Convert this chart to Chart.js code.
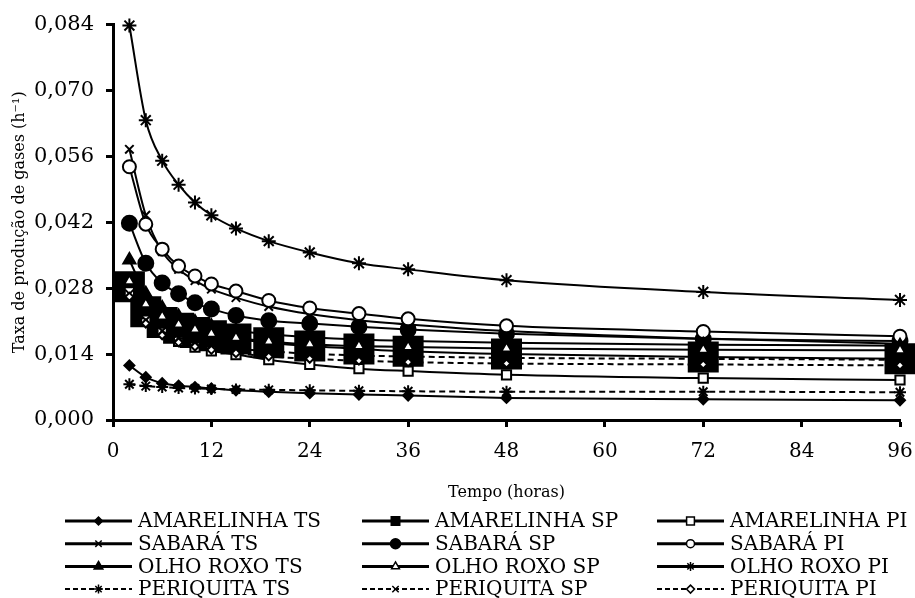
<!DOCTYPE html>
<html>
<head>
<meta charset="utf-8">
<script src="https://cdn.jsdelivr.net/npm/chart.js@4.4.1/dist/chart.umd.min.js"></script>
<style>
  html, body { margin: 0; padding: 0; background: #fff; }
</style>
</head>
<body>
<canvas id="chart" width="915" height="598"></canvas>
<script>
// Taxa de produção de gases - 12 curves, one per cultivar / treatment
const hours = [2, 4, 6, 8, 10, 12, 15, 19, 24, 30, 36, 48, 72, 96];

const amarelinhaTS = [0.0116, 0.0091, 0.0078, 0.0073, 0.0070, 0.0067, 0.0063, 0.0060, 0.0057, 0.0054, 0.0052, 0.0047, 0.0044, 0.0042];
const amarelinhaSP = [0.0283, 0.0230, 0.0207, 0.0195, 0.0186, 0.0179, 0.0172, 0.0164, 0.0157, 0.0151, 0.0146, 0.0140, 0.0134, 0.0130];
const amarelinhaPI = [0.0272, 0.0212, 0.0186, 0.0167, 0.0155, 0.0147, 0.0139, 0.0128, 0.0118, 0.0109, 0.0104, 0.0096, 0.0089, 0.0085];
const sabaraTS = [0.0575, 0.0435, 0.0358, 0.0320, 0.0296, 0.0278, 0.0260, 0.0241, 0.0225, 0.0212, 0.0203, 0.0189, 0.0173, 0.0162];
const sabaraSP = [0.0418, 0.0333, 0.0291, 0.0268, 0.0249, 0.0236, 0.0222, 0.0211, 0.0205, 0.0198, 0.0192, 0.0183, 0.0172, 0.0168];
const sabaraPI = [0.0538, 0.0416, 0.0363, 0.0327, 0.0306, 0.0289, 0.0274, 0.0254, 0.0238, 0.0226, 0.0215, 0.0200, 0.0188, 0.0178];
const olhoRoxoTS = [0.0340, 0.0268, 0.0238, 0.0220, 0.0208, 0.0199, 0.0190, 0.0182, 0.0176, 0.0171, 0.0168, 0.0164, 0.0160, 0.0158];
const olhoRoxoSP = [0.0295, 0.0246, 0.0220, 0.0203, 0.0192, 0.0183, 0.0175, 0.0167, 0.0161, 0.0157, 0.0155, 0.0152, 0.0149, 0.0148];
const olhoRoxoPI = [0.0838, 0.0637, 0.0551, 0.0500, 0.0462, 0.0435, 0.0407, 0.0380, 0.0356, 0.0333, 0.0320, 0.0297, 0.0272, 0.0255];
const periquitaTS = [0.0076, 0.0072, 0.0070, 0.0068, 0.0067, 0.0066, 0.0065, 0.0064, 0.0063, 0.0062, 0.0061, 0.0060, 0.0060, 0.0059];
const periquitaSP = [0.0268, 0.0212, 0.0189, 0.0175, 0.0166, 0.0159, 0.0152, 0.0146, 0.0141, 0.0137, 0.0135, 0.0132, 0.0130, 0.0128];
const periquitaPI = [0.0262, 0.0205, 0.0180, 0.0165, 0.0156, 0.0149, 0.0142, 0.0135, 0.0130, 0.0126, 0.0123, 0.0120, 0.0118, 0.0116];

const xTicks = [0, 12, 24, 36, 48, 60, 72, 84, 96];
const yTicks = [0, 0.014, 0.028, 0.042, 0.056, 0.070, 0.084];

const FONT = '"DejaVu Serif", "Liberation Serif", serif';

// name, values, marker look (plot + legend)
const series = [
    ['AMARELINHA TS', amarelinhaTS, { style: 'rectRot', r: 5, fill: '#000', lr: 4 }],
    ['AMARELINHA SP', amarelinhaSP, { style: 'rect', r: 20.5, fill: '#000', lr: 6 }],
    ['AMARELINHA PI', amarelinhaPI, { style: 'rect', r: 6.5, fill: '#fff', lr: 5.5 }],
    ['SABARÁ TS', sabaraTS, { style: 'crossRot', r: 6, fill: '#000', lr: 4.5 }],
    ['SABARÁ SP', sabaraSP, { style: 'circle', r: 7.5, fill: '#000', lr: 5 }],
    ['SABARÁ PI', sabaraPI, { style: 'circle', r: 6.5, fill: '#fff', lr: 4 }],
    ['OLHO ROXO TS', olhoRoxoTS, { style: 'triangle', r: 7, fill: '#000', lr: 5 }],
    ['OLHO ROXO SP', olhoRoxoSP, { style: 'triangle', r: 6, fill: '#fff', lr: 4.5 }],
    ['OLHO ROXO PI', olhoRoxoPI, { style: 'star', r: 7, fill: '#000', lr: 4.5 }],
    ['PERIQUITA TS', periquitaTS, { style: 'star', r: 6, fill: '#000', lr: 4.5, dash: true }],
    ['PERIQUITA SP', periquitaSP, { style: 'crossRot', r: 6, fill: '#000', lr: 4.5, dash: true }],
    ['PERIQUITA PI', periquitaPI, { style: 'rectRot', r: 4, fill: '#fff', lr: 4, dash: true }]
];

const datasets = series.map(([name, values, look], i) => ({
    label: name,
    data: hours.map((h, k) => ({ x: h, y: values[k] })),
    borderColor: '#000',
    borderWidth: 2,
    borderDash: look.dash ? [6, 4] : [],
    backgroundColor: look.fill,
    pointStyle: look.style,
    pointRadius: look.r,
    pointBorderWidth: 2,
    pointBorderColor: '#000',
    pointBackgroundColor: look.fill,
    cubicInterpolationMode: 'monotone',
    clip: false,
    order: series.length - i,
    legendLook: look
}));

// legend drawn under the axis title, three columns (TS / SP / PI)
const gridLegend = {
    id: 'gridLegend',
    afterDraw(chart) {
        const ctx = chart.ctx;
        const colX = [65, 362, 657];
        const lineLen = 67;
        chart.data.datasets.forEach((ds, i) => {
            const col = i % 3;
            const row = Math.floor(i / 3);
            const x0 = colX[col];
            const y = 521 + row * 22.7;
            const look = ds.legendLook;

            ctx.save();
            ctx.strokeStyle = '#000';
            ctx.lineWidth = look.dash ? 2 : 3;
            ctx.setLineDash(look.dash ? [5, 3] : []);
            ctx.beginPath();
            ctx.moveTo(x0, y);
            ctx.lineTo(x0 + lineLen, y);
            ctx.stroke();
            ctx.setLineDash([]);

            ctx.fillStyle = look.fill;
            ctx.strokeStyle = '#000';
            ctx.lineWidth = 1.5;
            Chart.helpers.drawPoint(ctx, {
                pointStyle: look.style, radius: look.lr, borderWidth: 1.5, rotation: 0
            }, x0 + lineLen / 2, y);

            ctx.fillStyle = '#000';
            ctx.font = '20px ' + FONT;
            ctx.textBaseline = 'middle';
            ctx.textAlign = 'left';
            ctx.fillText(ds.label, x0 + lineLen + 6, y + 1);
            ctx.restore();
        });
    }
};

const axisGrid = {
    drawOnChartArea: false,
    drawTicks: true,
    tickLength: 7,
    tickWidth: 3,
    tickColor: '#000',
    color: '#000'
};

const chartConfig = {
    type: 'line',
    data: { datasets: datasets },
    options: {
        responsive: false,
        animation: false,
        devicePixelRatio: 1,
        layout: {
            autoPadding: false,
            padding: { left: 6, right: 15, top: 23, bottom: 92 }
        },
        plugins: {
            legend: { display: false },
            tooltip: { enabled: false }
        },
        scales: {
            x: {
                type: 'linear',
                min: 0,
                max: 96,
                afterBuildTicks: s => { s.ticks = xTicks.map(v => ({ value: v })); },
                afterFit: s => {
                    s.height = 86;
                    // keep the label padding from eating into the plot width
                    s.paddingLeft = 12;
                    s.paddingRight = 12;
                },
                grid: axisGrid,
                border: { color: '#000', width: 3 },
                ticks: {
                    color: '#000',
                    font: { family: FONT, size: 20 },
                    padding: 13,
                    maxRotation: 0
                },
                title: {
                    display: true,
                    text: 'Tempo (horas)',
                    color: '#000',
                    font: { family: FONT, size: 16 },
                    padding: { top: 4, bottom: 4 }
                }
            },
            y: {
                type: 'linear',
                min: 0,
                max: 0.084,
                afterBuildTicks: s => { s.ticks = yTicks.map(v => ({ value: v })); },
                afterFit: s => { s.width = 107; },
                grid: axisGrid,
                border: { color: '#000', width: 3 },
                ticks: {
                    color: '#000',
                    font: { family: FONT, size: 21 },
                    padding: 12,
                    callback: v => v.toFixed(3).replace('.', ',')
                },
                title: {
                    display: true,
                    text: 'Taxa de produção de gases (h⁻¹)',
                    color: '#000',
                    font: { family: FONT, size: 16 },
                    padding: { top: 4, bottom: 4 }
                }
            }
        }
    },
    plugins: [gridLegend]
};

new Chart(document.getElementById('chart'), chartConfig);
</script>
</body>
</html>
